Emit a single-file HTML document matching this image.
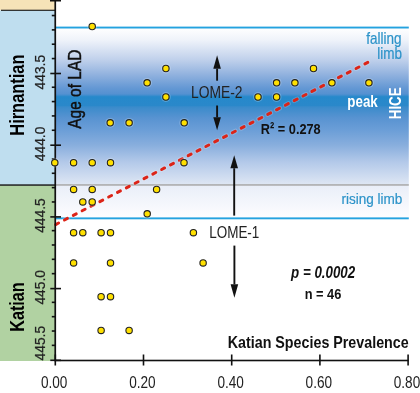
<!DOCTYPE html><html><head><meta charset="utf-8"><style>html,body{margin:0;padding:0;background:#fff;}svg{display:block;will-change:transform;}text{font-family:"Liberation Sans",sans-serif;}</style></head><body>
<svg width="420" height="393" viewBox="0 0 420 393">
<defs><linearGradient id="g1" gradientUnits="userSpaceOnUse" x1="0" y1="28" x2="0" y2="185"><stop offset="0.0000" stop-color="#ffffff"/><stop offset="0.0764" stop-color="#eff3fa"/><stop offset="0.2038" stop-color="#bfd0eb"/><stop offset="0.2994" stop-color="#90b1de"/><stop offset="0.3822" stop-color="#6498d4"/><stop offset="0.4204" stop-color="#5591d1"/><stop offset="0.4382" stop-color="#2689cb"/><stop offset="0.4936" stop-color="#2a88ca"/><stop offset="0.5032" stop-color="#3a8bcb"/><stop offset="0.5732" stop-color="#5893d1"/><stop offset="0.6497" stop-color="#6b9ed7"/><stop offset="0.7452" stop-color="#88aedd"/><stop offset="0.8535" stop-color="#b3c9e9"/><stop offset="1.0000" stop-color="#dfe7f4"/></linearGradient><linearGradient id="g2" gradientUnits="userSpaceOnUse" x1="0" y1="185" x2="0" y2="218"><stop offset="0.0000" stop-color="#e9eef8"/><stop offset="1.0000" stop-color="#fdfdff"/></linearGradient></defs>
<rect x="0" y="0" width="55" height="10.5" fill="#f6e3b8"/>
<rect x="0" y="10.5" width="55" height="174.5" fill="#bfdeef"/>
<rect x="0" y="185" width="55" height="176" fill="#b1d2a2"/>
<rect x="1" y="9.7" width="54" height="1.2" fill="#222"/>
<rect x="0" y="184.3" width="55" height="1.5" fill="#222"/>
<rect x="55.5" y="28" width="353.3" height="157" fill="url(#g1)"/>
<rect x="55.5" y="185" width="353.3" height="33" fill="url(#g2)"/>
<rect x="55.5" y="184.2" width="353.3" height="1.5" fill="#a8a8a8"/>
<rect x="55.5" y="26.6" width="353.3" height="1.9" fill="#24a2df"/>
<rect x="55.5" y="217.4" width="353.3" height="1.9" fill="#24a2df"/>
<line x1="55.64" y1="224.55" x2="367.8" y2="62.39" stroke="#ffffff" stroke-opacity="0.18" stroke-width="5" stroke-linecap="round" stroke-dasharray="3.3 6.657"/>
<line x1="55.64" y1="224.55" x2="367.8" y2="62.39" stroke="#dc2418" stroke-width="3" stroke-linecap="round" stroke-dasharray="3.3 6.657"/>
<rect x="54.4" y="0" width="1.7" height="361.3" fill="#111"/>
<rect x="54.8" y="359.7" width="353.8" height="1.6" fill="#111"/>
<rect x="50" y="0" width="11" height="1.5" fill="#111"/>
<rect x="51.8" y="14.74" width="3.5" height="1.6" fill="#111"/>
<rect x="51.8" y="29.08" width="3.5" height="1.6" fill="#111"/>
<rect x="51.8" y="43.42" width="3.5" height="1.6" fill="#111"/>
<rect x="51.8" y="57.76" width="3.5" height="1.6" fill="#111"/>
<rect x="50.3" y="72.70" width="10.7" height="1.6" fill="#111"/>
<rect x="51.8" y="86.44" width="3.5" height="1.6" fill="#111"/>
<rect x="51.8" y="100.78" width="3.5" height="1.6" fill="#111"/>
<rect x="51.8" y="115.12" width="3.5" height="1.6" fill="#111"/>
<rect x="51.8" y="129.46" width="3.5" height="1.6" fill="#111"/>
<rect x="50.3" y="144.40" width="10.7" height="1.6" fill="#111"/>
<rect x="51.8" y="158.14" width="3.5" height="1.6" fill="#111"/>
<rect x="51.8" y="172.48" width="3.5" height="1.6" fill="#111"/>
<rect x="51.8" y="186.82" width="3.5" height="1.6" fill="#111"/>
<rect x="51.8" y="201.16" width="3.5" height="1.6" fill="#111"/>
<rect x="50.3" y="216.10" width="10.7" height="1.6" fill="#111"/>
<rect x="51.8" y="229.84" width="3.5" height="1.6" fill="#111"/>
<rect x="51.8" y="244.18" width="3.5" height="1.6" fill="#111"/>
<rect x="51.8" y="258.52" width="3.5" height="1.6" fill="#111"/>
<rect x="51.8" y="272.86" width="3.5" height="1.6" fill="#111"/>
<rect x="50.3" y="287.80" width="10.7" height="1.6" fill="#111"/>
<rect x="51.8" y="301.54" width="3.5" height="1.6" fill="#111"/>
<rect x="51.8" y="315.88" width="3.5" height="1.6" fill="#111"/>
<rect x="51.8" y="330.22" width="3.5" height="1.6" fill="#111"/>
<rect x="51.8" y="344.56" width="3.5" height="1.6" fill="#111"/>
<rect x="50.3" y="359.50" width="10.7" height="1.6" fill="#111"/>
<rect x="54.50" y="354.5" width="1.6" height="11" fill="#111"/>
<rect x="142.70" y="354.5" width="1.6" height="11" fill="#111"/>
<rect x="230.90" y="354.5" width="1.6" height="11" fill="#111"/>
<rect x="319.10" y="354.5" width="1.6" height="11" fill="#111"/>
<rect x="407.30" y="354.5" width="1.6" height="11" fill="#111"/>
<circle cx="92.2" cy="26.5" r="4.9" fill="#fff" fill-opacity="0.22"/><circle cx="92.2" cy="26.5" r="3.2" fill="#ffe000" stroke="#222" stroke-width="1.1"/>
<circle cx="165.89999999999998" cy="68.5" r="4.9" fill="#fff" fill-opacity="0.22"/><circle cx="165.89999999999998" cy="68.5" r="3.2" fill="#ffe000" stroke="#222" stroke-width="1.1"/>
<circle cx="313.5" cy="68.5" r="4.9" fill="#fff" fill-opacity="0.22"/><circle cx="313.5" cy="68.5" r="3.2" fill="#ffe000" stroke="#222" stroke-width="1.1"/>
<circle cx="147.1" cy="82.8" r="4.9" fill="#fff" fill-opacity="0.22"/><circle cx="147.1" cy="82.8" r="3.2" fill="#ffe000" stroke="#222" stroke-width="1.1"/>
<circle cx="276.59999999999997" cy="82.8" r="4.9" fill="#fff" fill-opacity="0.22"/><circle cx="276.59999999999997" cy="82.8" r="3.2" fill="#ffe000" stroke="#222" stroke-width="1.1"/>
<circle cx="294.9" cy="82.8" r="4.9" fill="#fff" fill-opacity="0.22"/><circle cx="294.9" cy="82.8" r="3.2" fill="#ffe000" stroke="#222" stroke-width="1.1"/>
<circle cx="331.9" cy="82.8" r="4.9" fill="#fff" fill-opacity="0.22"/><circle cx="331.9" cy="82.8" r="3.2" fill="#ffe000" stroke="#222" stroke-width="1.1"/>
<circle cx="368.9" cy="82.8" r="4.9" fill="#fff" fill-opacity="0.22"/><circle cx="368.9" cy="82.8" r="3.2" fill="#ffe000" stroke="#222" stroke-width="1.1"/>
<circle cx="165.89999999999998" cy="97.0" r="4.9" fill="#fff" fill-opacity="0.22"/><circle cx="165.89999999999998" cy="97.0" r="3.2" fill="#ffe000" stroke="#222" stroke-width="1.1"/>
<circle cx="258.0" cy="97.0" r="4.9" fill="#fff" fill-opacity="0.22"/><circle cx="258.0" cy="97.0" r="3.2" fill="#ffe000" stroke="#222" stroke-width="1.1"/>
<circle cx="276.59999999999997" cy="97.0" r="4.9" fill="#fff" fill-opacity="0.22"/><circle cx="276.59999999999997" cy="97.0" r="3.2" fill="#ffe000" stroke="#222" stroke-width="1.1"/>
<circle cx="110.2" cy="122.8" r="4.9" fill="#fff" fill-opacity="0.22"/><circle cx="110.2" cy="122.8" r="3.2" fill="#ffe000" stroke="#222" stroke-width="1.1"/>
<circle cx="129.1" cy="122.8" r="4.9" fill="#fff" fill-opacity="0.22"/><circle cx="129.1" cy="122.8" r="3.2" fill="#ffe000" stroke="#222" stroke-width="1.1"/>
<circle cx="184.2" cy="122.8" r="4.9" fill="#fff" fill-opacity="0.22"/><circle cx="184.2" cy="122.8" r="3.2" fill="#ffe000" stroke="#222" stroke-width="1.1"/>
<circle cx="54.800000000000004" cy="162.70000000000002" r="4.9" fill="#fff" fill-opacity="0.22"/><circle cx="54.800000000000004" cy="162.70000000000002" r="3.2" fill="#ffe000" stroke="#222" stroke-width="1.1"/>
<circle cx="73.60000000000001" cy="162.70000000000002" r="4.9" fill="#fff" fill-opacity="0.22"/><circle cx="73.60000000000001" cy="162.70000000000002" r="3.2" fill="#ffe000" stroke="#222" stroke-width="1.1"/>
<circle cx="92.2" cy="162.70000000000002" r="4.9" fill="#fff" fill-opacity="0.22"/><circle cx="92.2" cy="162.70000000000002" r="3.2" fill="#ffe000" stroke="#222" stroke-width="1.1"/>
<circle cx="110.5" cy="162.70000000000002" r="4.9" fill="#fff" fill-opacity="0.22"/><circle cx="110.5" cy="162.70000000000002" r="3.2" fill="#ffe000" stroke="#222" stroke-width="1.1"/>
<circle cx="184.0" cy="162.70000000000002" r="4.9" fill="#fff" fill-opacity="0.22"/><circle cx="184.0" cy="162.70000000000002" r="3.2" fill="#ffe000" stroke="#222" stroke-width="1.1"/>
<circle cx="73.60000000000001" cy="189.4" r="4.9" fill="#fff" fill-opacity="0.22"/><circle cx="73.60000000000001" cy="189.4" r="3.2" fill="#ffe000" stroke="#222" stroke-width="1.1"/>
<circle cx="92.2" cy="189.4" r="4.9" fill="#fff" fill-opacity="0.22"/><circle cx="92.2" cy="189.4" r="3.2" fill="#ffe000" stroke="#222" stroke-width="1.1"/>
<circle cx="156.6" cy="189.5" r="4.9" fill="#fff" fill-opacity="0.22"/><circle cx="156.6" cy="189.5" r="3.2" fill="#ffe000" stroke="#222" stroke-width="1.1"/>
<circle cx="82.8" cy="201.9" r="4.9" fill="#fff" fill-opacity="0.22"/><circle cx="82.8" cy="201.9" r="3.2" fill="#ffe000" stroke="#222" stroke-width="1.1"/>
<circle cx="92.2" cy="201.9" r="4.9" fill="#fff" fill-opacity="0.22"/><circle cx="92.2" cy="201.9" r="3.2" fill="#ffe000" stroke="#222" stroke-width="1.1"/>
<circle cx="147.2" cy="213.8" r="4.9" fill="#fff" fill-opacity="0.22"/><circle cx="147.2" cy="213.8" r="3.2" fill="#ffe000" stroke="#222" stroke-width="1.1"/>
<circle cx="73.60000000000001" cy="232.70000000000002" r="4.9" fill="#fff" fill-opacity="0.22"/><circle cx="73.60000000000001" cy="232.70000000000002" r="3.2" fill="#ffe000" stroke="#222" stroke-width="1.1"/>
<circle cx="82.8" cy="232.70000000000002" r="4.9" fill="#fff" fill-opacity="0.22"/><circle cx="82.8" cy="232.70000000000002" r="3.2" fill="#ffe000" stroke="#222" stroke-width="1.1"/>
<circle cx="101.10000000000001" cy="232.70000000000002" r="4.9" fill="#fff" fill-opacity="0.22"/><circle cx="101.10000000000001" cy="232.70000000000002" r="3.2" fill="#ffe000" stroke="#222" stroke-width="1.1"/>
<circle cx="110.5" cy="232.70000000000002" r="4.9" fill="#fff" fill-opacity="0.22"/><circle cx="110.5" cy="232.70000000000002" r="3.2" fill="#ffe000" stroke="#222" stroke-width="1.1"/>
<circle cx="193.39999999999998" cy="232.70000000000002" r="4.9" fill="#fff" fill-opacity="0.22"/><circle cx="193.39999999999998" cy="232.70000000000002" r="3.2" fill="#ffe000" stroke="#222" stroke-width="1.1"/>
<circle cx="73.60000000000001" cy="262.90000000000003" r="4.9" fill="#fff" fill-opacity="0.22"/><circle cx="73.60000000000001" cy="262.90000000000003" r="3.2" fill="#ffe000" stroke="#222" stroke-width="1.1"/>
<circle cx="110.5" cy="262.90000000000003" r="4.9" fill="#fff" fill-opacity="0.22"/><circle cx="110.5" cy="262.90000000000003" r="3.2" fill="#ffe000" stroke="#222" stroke-width="1.1"/>
<circle cx="203.1" cy="262.90000000000003" r="4.9" fill="#fff" fill-opacity="0.22"/><circle cx="203.1" cy="262.90000000000003" r="3.2" fill="#ffe000" stroke="#222" stroke-width="1.1"/>
<circle cx="101.10000000000001" cy="296.7" r="4.9" fill="#fff" fill-opacity="0.22"/><circle cx="101.10000000000001" cy="296.7" r="3.2" fill="#ffe000" stroke="#222" stroke-width="1.1"/>
<circle cx="110.5" cy="296.7" r="4.9" fill="#fff" fill-opacity="0.22"/><circle cx="110.5" cy="296.7" r="3.2" fill="#ffe000" stroke="#222" stroke-width="1.1"/>
<circle cx="101.10000000000001" cy="330.40000000000003" r="4.9" fill="#fff" fill-opacity="0.22"/><circle cx="101.10000000000001" cy="330.40000000000003" r="3.2" fill="#ffe000" stroke="#222" stroke-width="1.1"/>
<circle cx="129.1" cy="330.40000000000003" r="4.9" fill="#fff" fill-opacity="0.22"/><circle cx="129.1" cy="330.40000000000003" r="3.2" fill="#ffe000" stroke="#222" stroke-width="1.1"/>
<text transform="translate(54.199999999999996,388) scale(0.8,1)" font-size="17" font-weight="normal" font-style="normal" fill="#222" text-anchor="middle" >0.00</text>
<text transform="translate(142.4,388) scale(0.8,1)" font-size="17" font-weight="normal" font-style="normal" fill="#222" text-anchor="middle" >0.20</text>
<text transform="translate(230.6,388) scale(0.8,1)" font-size="17" font-weight="normal" font-style="normal" fill="#222" text-anchor="middle" >0.40</text>
<text transform="translate(318.8,388) scale(0.8,1)" font-size="17" font-weight="normal" font-style="normal" fill="#222" text-anchor="middle" >0.60</text>
<text transform="translate(407.0,388) scale(0.8,1)" font-size="17" font-weight="normal" font-style="normal" fill="#222" text-anchor="middle" >0.80</text>
<text transform="translate(44.8,72.2) rotate(-90) scale(0.92,1)" font-size="15" font-weight="normal" font-style="normal" fill="#222" text-anchor="middle" stroke="#222" stroke-width="0.2">443.5</text>
<text transform="translate(44.8,143.9) rotate(-90) scale(0.92,1)" font-size="15" font-weight="normal" font-style="normal" fill="#222" text-anchor="middle" stroke="#222" stroke-width="0.2">444.0</text>
<text transform="translate(44.8,215.6) rotate(-90) scale(0.92,1)" font-size="15" font-weight="normal" font-style="normal" fill="#222" text-anchor="middle" stroke="#222" stroke-width="0.2">444.5</text>
<text transform="translate(44.8,287.3) rotate(-90) scale(0.92,1)" font-size="15" font-weight="normal" font-style="normal" fill="#222" text-anchor="middle" stroke="#222" stroke-width="0.2">445.0</text>
<text transform="translate(44.8,343.2) rotate(-90) scale(0.92,1)" font-size="15" font-weight="normal" font-style="normal" fill="#222" text-anchor="middle" stroke="#222" stroke-width="0.2">445.5</text>
<text transform="translate(23.6,95.1) rotate(-90) scale(0.822,1)" font-size="20" font-weight="bold" font-style="normal" fill="#000" text-anchor="middle" >Hirnantian</text>
<text transform="translate(23.8,307) rotate(-90) scale(0.81,1)" font-size="20" font-weight="bold" font-style="normal" fill="#000" text-anchor="middle" >Katian</text>
<text transform="translate(80.5,89.2) rotate(-90) scale(0.838,1)" font-size="18.5" font-weight="normal" font-style="normal" fill="#111" text-anchor="middle" stroke="#111" stroke-width="0.45">Age of LAD</text>
<line x1="217.1" y1="68.7" x2="217.1" y2="80.7" stroke="#111" stroke-width="1.9"/>
<path d="M217.1 55.3 L220.9 68.7 L213.29999999999998 68.7 Z" fill="#111"/>
<line x1="217.1" y1="117.3" x2="217.1" y2="105.5" stroke="#111" stroke-width="1.9"/>
<path d="M217.1 130.2 L220.9 117.3 L213.29999999999998 117.3 Z" fill="#111"/>
<line x1="234.2" y1="168.2" x2="234.2" y2="215.6" stroke="#111" stroke-width="1.9"/>
<path d="M234.2 155.3 L238.0 168.2 L230.39999999999998 168.2 Z" fill="#111"/>
<line x1="234.4" y1="284.3" x2="234.4" y2="245.6" stroke="#111" stroke-width="1.9"/>
<path d="M234.4 297.7 L238.20000000000002 284.3 L230.6 284.3 Z" fill="#111"/>
<text transform="translate(191,98) scale(0.866,1)" font-size="16" font-weight="normal" font-style="normal" fill="#222" text-anchor="start" >LOME-2</text>
<text transform="translate(209.2,237.8) scale(0.842,1)" font-size="16" font-weight="normal" font-style="normal" fill="#222" text-anchor="start" >LOME-1</text>
<text transform="translate(260.8,134.1) scale(0.823,1)" font-size="15.5" font-weight="bold" font-style="normal" fill="#111" text-anchor="start" >R² = 0.278</text>
<text transform="translate(401.6,44.0) scale(0.845,1)" font-size="16" font-weight="normal" font-style="normal" fill="#2c93c9" text-anchor="end" stroke="#2c93c9" stroke-width="0.2">falling</text>
<text transform="translate(402,58.8) scale(0.82,1)" font-size="16.5" font-weight="normal" font-style="normal" fill="#2c93c9" text-anchor="end" stroke="#2c93c9" stroke-width="0.2">limb</text>
<text transform="translate(402.4,203.6) scale(0.875,1)" font-size="15.5" font-weight="normal" font-style="normal" fill="#2c93c9" text-anchor="end" stroke="#2c93c9" stroke-width="0.2">rising limb</text>
<text transform="translate(347.3,107.2) scale(0.81,1)" font-size="16.5" font-weight="bold" font-style="normal" fill="#fff" text-anchor="start" >peak</text>
<text transform="translate(401.2,103.3) rotate(-90) scale(0.81,1)" font-size="16.5" font-weight="bold" font-style="normal" fill="#fff" text-anchor="middle" >HICE</text>
<text transform="translate(355.2,277.6) scale(0.834,1)" font-size="16" font-weight="bold" font-style="italic" fill="#111" text-anchor="end" >p = 0.0002</text>
<text transform="translate(323.0,299.1) scale(0.826,1)" font-size="15.5" font-weight="bold" font-style="normal" fill="#111" text-anchor="middle" >n = 46</text>
<text transform="translate(408.7,347.6) scale(0.893,1)" font-size="16" font-weight="bold" font-style="normal" fill="#111" text-anchor="end" >Katian Species Prevalence</text>
</svg></body></html>
